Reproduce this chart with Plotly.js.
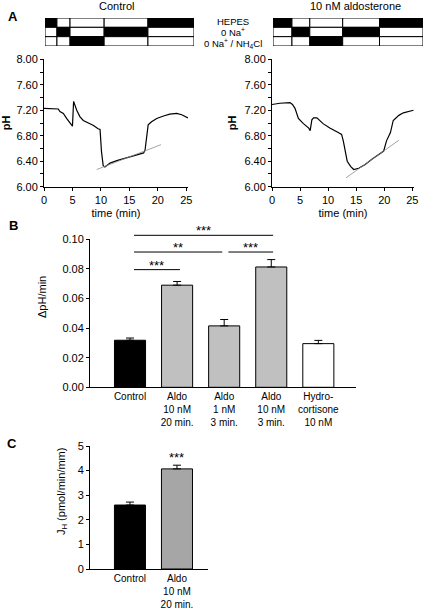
<!DOCTYPE html>
<html>
<head>
<meta charset="utf-8">
<script src="https://cdn.plot.ly/plotly-3.0.1.min.js"></script>
<style>html,body{margin:0;padding:0;background:#fff;}#chart{width:424px;height:611px;}</style>
</head>
<body>
<div id="chart"></div>
<script>
// ---------- Panel A data ----------
const ctrlTime = [0, 1.9, 2.5, 2.8, 3.4, 4.0, 4.6, 5.0, 5.2, 5.75, 6.3, 6.9, 7.8, 8.7, 9.5, 9.85, 10.1, 10.4, 10.7, 11.0, 11.6, 12.8, 14.5, 16.3, 17.5, 17.75, 18.05, 18.3, 18.9, 19.8, 21.0, 22.1, 23.3, 24.2, 25.3];
const ctrlPH   = [7.23, 7.23, 7.22, 7.18, 7.15, 7.07, 6.99, 6.95, 7.34, 7.20, 7.10, 7.04, 7.00, 6.96, 6.91, 6.90, 6.55, 6.33, 6.31, 6.33, 6.37, 6.41, 6.45, 6.49, 6.53, 6.57, 6.76, 6.97, 7.02, 7.07, 7.11, 7.14, 7.15, 7.13, 7.08];
const ctrlFitTime = [9.26, 20.56];
const ctrlFitPH   = [6.27, 6.66];

const aldoTime = [0, 1.4, 3.2, 3.65, 4.1, 4.7, 5.6, 6.55, 6.8, 7.1, 7.4, 8.0, 9.1, 10.3, 11.8, 12.4, 12.7, 13.05, 13.4, 14.0, 14.55, 15.45, 16.6, 17.8, 19.0, 19.9, 20.4, 21.1, 21.6, 22.6, 23.4, 24.2, 25.2];
const aldoPH   = [7.29, 7.31, 7.32, 7.29, 7.23, 7.07, 6.99, 6.92, 6.88, 7.05, 7.08, 7.08, 6.99, 6.92, 6.85, 6.82, 6.72, 6.56, 6.40, 6.32, 6.27, 6.29, 6.35, 6.43, 6.50, 6.56, 6.72, 6.85, 7.04, 7.12, 7.16, 7.18, 7.20];
const aldoFitTime = [13.2, 22.6];
const aldoFitPH   = [6.14, 6.73];

// protocol (minutes from start of box); phase boundaries and which row is active
const protoRows = ['HEPES', '0 Na<sup>+</sup>', '0 Na<sup>+</sup> / NH<sub>4</sub>Cl'];
const protoCtrlEdges = [0, 2.1, 4.4, 10.4, 18.1, 26.2];
const protoAldoEdges = [0, 3.4, 6.6, 12.5, 19.1, 26.9];
const protoPhaseRow  = [0, 1, 2, 1, 0];

// ---------- Panel B data ----------
const bCats = ['Control', 'Aldo<br>10 nM<br>20 min.', 'Aldo<br>1 nM<br>3 min.', 'Aldo<br>10 nM<br>3 min.', 'Hydro-<br>cortisone<br>10 nM'];
const bVals = [0.0318, 0.0690, 0.0415, 0.0813, 0.0295];
const bErr  = [0.0015, 0.0025, 0.0043, 0.0050, 0.0022];
const sigFrom  = [0.085, 0.085, 2.09, 0.085];
const sigTo    = [3.04, 1.96, 3.04, 1.06];
const sigLevel = [0.1027, 0.0914, 0.0914, 0.0795];
const sigText  = ['***', '**', '***', '***'];

// ---------- Panel C data ----------
const cCats = ['Control', 'Aldo<br>10 nM<br>20 min.'];
const cVals = [2.60, 4.07];
const cErr  = [0.12, 0.15];
const cSig  = ['', '***'];

// ---------- helpers ----------
const W = 424, H = 611;
const px = x => x / W;
const py = y => 1 - y / H;
const FONT = 'Liberation Sans, Arial, Helvetica, sans-serif';
const black = '#000000';

const traces = [];
// Panel A traces
traces.push({x: ctrlTime, y: ctrlPH, xaxis: 'x', yaxis: 'y', type: 'scatter', mode: 'lines', line: {color: black, width: 1.2}, hoverinfo: 'skip'});
traces.push({x: ctrlFitTime, y: ctrlFitPH, xaxis: 'x', yaxis: 'y', type: 'scatter', mode: 'lines', line: {color: '#8c8c8c', width: 0.8}, hoverinfo: 'skip'});
traces.push({x: aldoTime, y: aldoPH, xaxis: 'x2', yaxis: 'y2', type: 'scatter', mode: 'lines', line: {color: black, width: 1.2}, hoverinfo: 'skip'});
traces.push({x: aldoFitTime, y: aldoFitPH, xaxis: 'x2', yaxis: 'y2', type: 'scatter', mode: 'lines', line: {color: '#8c8c8c', width: 0.8}, hoverinfo: 'skip'});

// Protocol bars
function protoTraces(edges, xa, ya) {
  for (let r = 0; r < protoRows.length; r++) {
    const base = [], len = [], col = [], yy = [];
    for (let p = 0; p < protoPhaseRow.length; p++) {
      base.push(edges[p]);
      len.push(edges[p + 1] - edges[p]);
      col.push(protoPhaseRow[p] === r ? black : '#ffffff');
      yy.push(r);
    }
    traces.push({type: 'bar', orientation: 'h', x: len, base: base, y: yy, width: 1,
      xaxis: xa, yaxis: ya, marker: {color: col, line: {color: black, width: 1}}, hoverinfo: 'skip'});
  }
}
protoTraces(protoCtrlEdges, 'x5', 'y5');
protoTraces(protoAldoEdges, 'x6', 'y6');

// Panel B bars
traces.push({type: 'bar', x: bCats, y: bVals, xaxis: 'x3', yaxis: 'y3', width: 0.66,
  marker: {color: [black, '#c0c0c0', '#c0c0c0', '#c0c0c0', '#ffffff'], line: {color: black, width: 1}},
  error_y: {type: 'data', symmetric: false, array: bErr, arrayminus: bErr.map(() => 0), color: black, thickness: 1, width: 4},
  hoverinfo: 'skip'});
// Panel C bars
traces.push({type: 'bar', x: cCats, y: cVals, xaxis: 'x4', yaxis: 'y4', width: 0.66,
  marker: {color: [black, '#a6a6a6'], line: {color: black, width: 1}},
  error_y: {type: 'data', symmetric: false, array: cErr, arrayminus: cErr.map(() => 0), color: black, thickness: 1, width: 4},
  hoverinfo: 'skip'});

const tickFont = {family: FONT, size: 11, color: black};
const catFont = {family: FONT, size: 10, color: black};
const baseAxis = {showgrid: false, zeroline: false, showline: true, linecolor: black, linewidth: 1,
  ticks: 'outside', ticklen: 3, tickcolor: black, tickwidth: 1, tickfont: tickFont, fixedrange: true};

function phY() {
  return Object.assign({}, baseAxis, {range: [6, 8], tick0: 6, dtick: 0.4, tickformat: '.2f',
    minor: {dtick: 0.2, tick0: 6, ticks: 'outside', ticklen: 3, tickcolor: black, showgrid: false},
    title: {text: '<b>pH</b>', font: {family: FONT, size: 11, color: black}, standoff: 5}});
}
function timeX() {
  return Object.assign({}, baseAxis, {range: [0, 25.3], tick0: 0, dtick: 5,
    title: {text: 'time (min)', font: {family: FONT, size: 11, color: black}, standoff: 4}});
}

// panel B y-axis geometry (used for converting bracket heights to paper units)
const bDomain = [py(387.3), py(239.3)];
const bRange = [0, 0.1];
const bPaperY = v => bDomain[0] + (v - bRange[0]) / (bRange[1] - bRange[0]) * (bDomain[1] - bDomain[0]);

const layout = {
  width: W, height: H, margin: {l: 0, r: 0, t: 0, b: 0},
  paper_bgcolor: '#fff', plot_bgcolor: 'rgba(0,0,0,0)', showlegend: false,
  barmode: 'overlay', font: {family: FONT, size: 11, color: black},
  xaxis: Object.assign(timeX(), {domain: [px(44), px(188)], anchor: 'y'}),
  yaxis: Object.assign(phY(), {domain: [py(186.7), py(59.3)], anchor: 'x'}),
  xaxis2: Object.assign(timeX(), {domain: [px(272), px(414)], anchor: 'y2'}),
  yaxis2: Object.assign(phY(), {domain: [py(186.7), py(59.3)], anchor: 'x2'}),
  xaxis3: Object.assign({}, baseAxis, {type: 'category', domain: [px(90), px(356)], anchor: 'y3', range: [-0.85, 4.8], ticks: '', tickfont: catFont}),
  yaxis3: Object.assign({}, baseAxis, {domain: bDomain, anchor: 'x3', range: bRange, dtick: 0.02, tickformat: '.2f'}),
  xaxis4: Object.assign({}, baseAxis, {type: 'category', domain: [px(90), px(208)], anchor: 'y4', range: [-0.85, 1.66], ticks: '', tickfont: catFont}),
  yaxis4: Object.assign({}, baseAxis, {domain: [py(569), py(446)], anchor: 'x4', range: [0, 5], dtick: 1}),
  xaxis5: {domain: [px(45), px(194)], anchor: 'y5', range: [0, protoCtrlEdges[protoCtrlEdges.length - 1]], visible: false, fixedrange: true},
  yaxis5: {domain: [py(46), py(18)], anchor: 'x5', range: [2.5, -0.5], visible: false, fixedrange: true},
  xaxis6: {domain: [px(273), px(423)], anchor: 'y6', range: [0, protoAldoEdges[protoAldoEdges.length - 1]], visible: false, fixedrange: true},
  yaxis6: {domain: [py(46), py(18)], anchor: 'x6', range: [2.5, -0.5], visible: false, fixedrange: true},
  shapes: [],
  annotations: []
};

// significance brackets in B
for (let i = 0; i < sigText.length; i++) {
  const yp = bPaperY(sigLevel[i]);
  layout.shapes.push({type: 'line', xref: 'x3', yref: 'paper', x0: sigFrom[i], x1: sigTo[i], y0: yp, y1: yp, line: {color: black, width: 1}});
  layout.annotations.push({xref: 'x3', yref: 'paper', x: (sigFrom[i] + sigTo[i]) / 2, y: yp, text: sigText[i], showarrow: false,
    yanchor: 'bottom', xanchor: 'center', yshift: -5, font: {family: FONT, size: 13, color: black}});
}
// significance over C bars
for (let i = 0; i < cSig.length; i++) {
  if (!cSig[i]) continue;
  layout.annotations.push({xref: 'x4', yref: 'y4', x: cCats[i], y: cVals[i] + cErr[i], text: cSig[i], showarrow: false,
    yanchor: 'bottom', xanchor: 'center', yshift: -2, font: {family: FONT, size: 13, color: black}});
}
// protocol row labels
const rowLabelY = [21.8, 31.8, 43.2];
for (let r = 0; r < protoRows.length; r++) {
  layout.annotations.push({xref: 'paper', yref: 'paper', x: px(233), y: py(rowLabelY[r]), text: protoRows[r], showarrow: false,
    xanchor: 'center', yanchor: 'middle', font: {family: FONT, size: 9.5, color: black}});
}
// panel titles & labels
const paperText = (x, y, t, size, opts) => layout.annotations.push(Object.assign({xref: 'paper', yref: 'paper', x: px(x), y: py(y), text: t,
  showarrow: false, xanchor: 'center', yanchor: 'middle', font: {family: FONT, size: size, color: black}}, opts || {}));
paperText(116, 6, 'Control', 11);
paperText(355, 6, '10 nM aldosterone', 11);
paperText(13, 16, '<b>A</b>', 13);
paperText(13, 226, '<b>B</b>', 13);
paperText(12, 443, '<b>C</b>', 13);
paperText(42, 297, 'ΔpH/min', 11, {textangle: -90});
paperText(62, 492, 'J<sub>H</sub> (pmol/min/mm)', 11, {textangle: -90});

Plotly.newPlot('chart', traces, layout, {displayModeBar: false, staticPlot: true});
</script>
</body>
</html>
